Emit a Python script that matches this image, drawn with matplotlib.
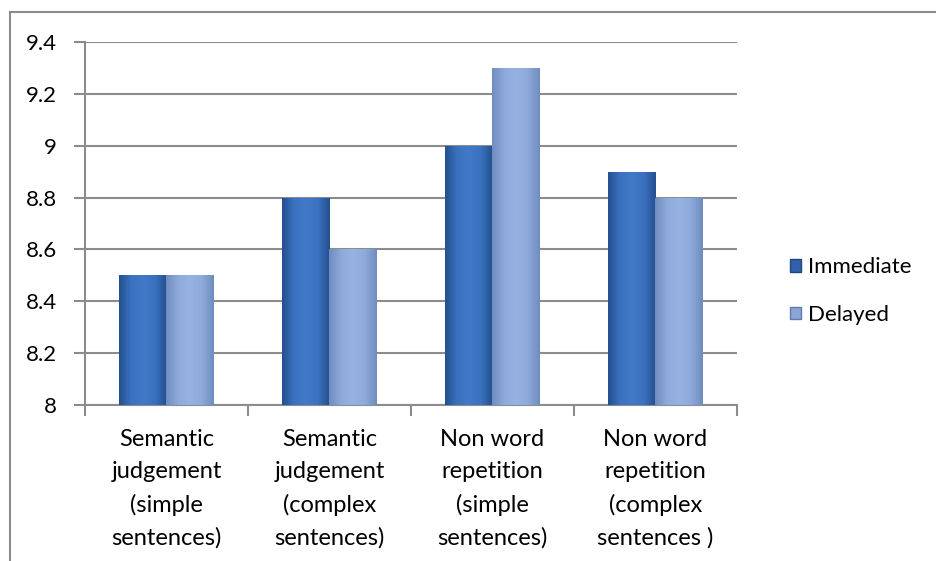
import numpy as np
import matplotlib.pyplot as plt
from matplotlib.colors import LinearSegmentedColormap
from matplotlib.lines import Line2D
from matplotlib.patches import Patch

categories = ["Semantic\njudgement\n(simple\nsentences)",
              "Semantic\njudgement\n(complex\nsentences)",
              "Non word\nrepetition\n(simple\nsentences)",
              "Non word\nrepetition\n(complex\nsentences )"]
immediate = [8.5, 8.8, 9.0, 8.9]
delayed = [8.5, 8.6, 9.3, 8.8]

plt.rcParams['font.family'] = ['Lato', 'DejaVu Sans']

fig = plt.figure(figsize=(9.37, 5.61), dpi=100)
ax = fig.add_axes([85/937, 1 - 405/561, 652/937, 363/561])

x = np.arange(len(categories))
w = 0.29

# shaded colour ramps for the bar faces (dark edges, lighter middle)
cmap_imm = LinearSegmentedColormap.from_list('imm', ['#24508f', '#3b72c0', '#4179c8', '#3b72c0', '#24508f'])
cmap_del = LinearSegmentedColormap.from_list('del', ['#6f8dbf', '#8eaadb', '#97b3e2', '#8eaadb', '#6f8dbf'])
ramp = np.linspace(0, 1, 64).reshape(1, -1)


def shaded_bars(xs, vals, color, cmap):
    bars = ax.bar(xs, [v - 8 for v in vals], w, bottom=8, color=color, linewidth=0, zorder=3)
    for b in bars:
        x0, y0 = b.get_x(), b.get_y()
        im = ax.imshow(ramp, cmap=cmap, aspect='auto', zorder=3.5,
                       extent=[x0, x0 + b.get_width(), y0, y0 + b.get_height()])
        im.set_clip_path(b)
    return bars


shaded_bars(x - w/2, immediate, '#3a6fba', cmap_imm)
shaded_bars(x + w/2, delayed, '#8aa6d8', cmap_del)

ax.set_xlim(-0.5, len(categories) - 0.5)
ax.set_ylim(8, 9.4)
ax.set_yticks(np.arange(8, 9.41, 0.2))
ax.set_yticklabels(['8', '8.2', '8.4', '8.6', '8.8', '9', '9.2', '9.4'], fontsize=16)
ax.yaxis.grid(True, color='#8c8c8c', linewidth=1.5, zorder=0)
ax.set_axisbelow(True)

ax.set_xticks(np.arange(-0.5, len(categories), 1.0))
ax.set_xticklabels([])
ax.set_xticks(x, minor=True)
ax.set_xticklabels(categories, minor=True, fontsize=17, linespacing=1.65)
ax.tick_params(axis='x', which='minor', length=0, pad=17)
ax.tick_params(axis='x', which='major', length=8, color='#8c8c8c', width=1.5)
ax.tick_params(axis='y', length=8, color='#8c8c8c', width=1.5, pad=12)

for s in ['top', 'right']:
    ax.spines[s].set_visible(False)
for s in ['left', 'bottom']:
    ax.spines[s].set_color('#8c8c8c')
    ax.spines[s].set_linewidth(1.5)

handles = [Patch(facecolor='#2f62ab', edgecolor='#1f467f', label='Immediate'),
           Patch(facecolor='#8aa6d8', edgecolor='#5f7aa8', label='Delayed')]
fig.legend(handles=handles, loc='center left', bbox_to_anchor=(770/937, 1 - 291/561),
           frameon=False, fontsize=16, handlelength=0.5, handleheight=0.5,
           handletextpad=0.3, labelspacing=1.25)

# chart-area border
fig.add_artist(Line2D([10/937, 10/937], [0, 1 - 12/561], color='#8c8c8c', linewidth=1.5))
fig.add_artist(Line2D([10/937, 1], [1 - 12/561, 1 - 12/561], color='#8c8c8c', linewidth=1.5))

fig.savefig('out.png', dpi=100)
